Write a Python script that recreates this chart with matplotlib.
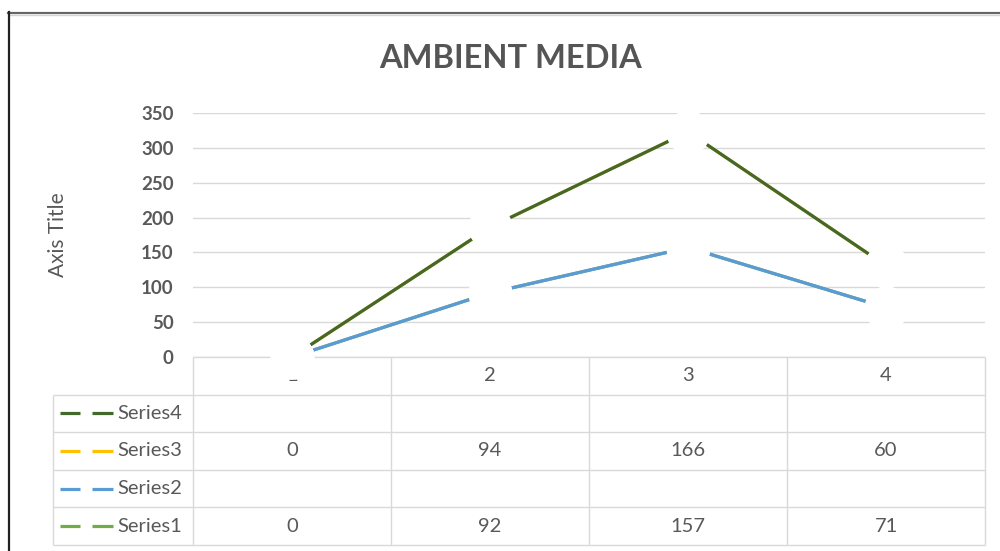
import numpy as np
import matplotlib.pyplot as plt
from matplotlib.lines import Line2D

plt.rcParams['font.family'] = ['Lato', 'DejaVu Sans']

categories = [1, 2, 3, 4]
series_names = ['Series1', 'Series2', 'Series3', 'Series4']
series1 = [0, 92, 157, 71]
series2 = [None, None, None, None]
series3 = [0, 94, 166, 60]
series4 = [None, None, None, None]
colors = ['#70AD47', '#5B9BD5', '#FFC000', '#43682B']
y_ticks = [0, 50, 100, 150, 200, 250, 300, 350]

W, H = 1000, 551
txt = '#595959'
grid = '#D9D9D9'

def fx(px):
    return px / W

def fy(py):
    return 1 - py / H

fig = plt.figure(figsize=(10, 5.51), dpi=100)

# pixel layout of the chart
tab_left, x0, right = 53, 193, 985
top, zero, bottom = 113, 357, 545
unit = (right - x0) / len(categories)

# data table below the plot
tab = fig.add_axes([fx(tab_left), fy(bottom), fx(right - tab_left), (bottom - zero) / H])
xl = 0.5 - (x0 - tab_left) / unit
tab.set_xlim(xl, len(categories) + 0.5)
tab.set_ylim(5, 0)
tab.axis('off')

tab.hlines([1, 2, 3, 4, 5], xl, len(categories) + 0.5, color=grid, lw=1, clip_on=False)
tab.hlines([0], 0.5, len(categories) + 0.5, color=grid, lw=1, clip_on=False)
tab.vlines([xl], 1, 5, color=grid, lw=1, clip_on=False)
tab.vlines(np.arange(len(categories) + 1) + 0.5, 0, 5, color=grid, lw=1, clip_on=False)

for c in categories:
    tab.text(c, 0.5, str(c), ha='center', va='center', fontsize=14.5, color=txt)

all_series = [series1, series2, series3, series4]
for i, (name, vals, col) in enumerate(zip(series_names, all_series, colors)):
    row = 4 - i + 0.5
    k = lambda px: xl + (px - tab_left) / unit
    tab.plot([k(60), k(80)], [row, row], color=col, lw=2.3, solid_capstyle='butt', clip_on=False)
    tab.plot([k(92), k(113)], [row, row], color=col, lw=2.3, solid_capstyle='butt', clip_on=False)
    tab.text(k(117), row, name, ha='left', va='center', fontsize=14.5, color=txt)
    for c, v in zip(categories, vals):
        if v is not None:
            tab.text(c, row, str(v), ha='center', va='center', fontsize=14.5, color=txt)

# main line plot (stacked lines)
ax = fig.add_axes([fx(x0), fy(zero), fx(right - x0), (zero - top) / H])
ax.patch.set_alpha(0)
ax.set_xlim(0.5, len(categories) + 0.5)
ax.set_ylim(0, 350)
ax.set_yticks(y_ticks)
ax.set_xticks([])
for s in ax.spines.values():
    s.set_visible(False)
ax.yaxis.grid(True, color=grid, lw=1)
ax.set_axisbelow(True)
ax.tick_params(axis='y', length=0, pad=14, labelsize=13.5, labelcolor=txt)
for lab in ax.get_yticklabels():
    lab.set_fontweight('bold')

stacked = np.cumsum([[0 if v is None else v for v in s] for s in all_series], axis=0)
for vals, col in zip(stacked, colors):
    ax.plot(categories, vals, color=col, lw=2.3, solid_capstyle='butt', zorder=3)
for vals in stacked:
    ax.plot(categories, vals, 'o', ms=31.5, mfc='white', mec='none', clip_on=False, zorder=5)

fig.text(fx(511), fy(59), 'AMBIENT MEDIA', ha='center', va='center',
         fontsize=23.5, fontweight='bold', color='#555555')
fig.text(fx(58), fy(235), 'Axis Title', ha='center', va='center', rotation=90,
         fontsize=15, color=txt)

# chart frame
fig.add_artist(Line2D([fx(8), 1], [fy(12.5), fy(12.5)], color='#666666', lw=1.6))
fig.add_artist(Line2D([fx(10), 1], [fy(14.5), fy(14.5)], color='#d4d4d4', lw=1))
fig.add_artist(Line2D([fx(8.5), fx(8.5)], [fy(12), 0], color='#222222', lw=1.6))

fig.savefig('out.png', dpi=100)
